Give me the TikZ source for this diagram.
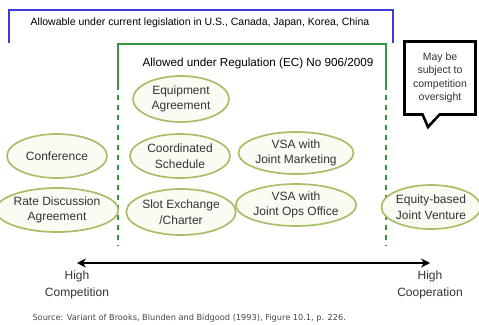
\documentclass[tikz,border=0pt]{standalone}
\usepackage{fontspec}
\setmainfont{Liberation Sans}
\newfontfamily\srcfont{DejaVu Sans}
\usetikzlibrary{shapes.geometric,shapes.callouts,arrows.meta}
\definecolor{legblue}{RGB}{60,60,215}
\definecolor{reggreen}{RGB}{55,150,60}
\definecolor{ellline}{RGB}{170,190,105}
\definecolor{ellfill}{RGB}{250,251,243}
\definecolor{srcgray}{RGB}{70,70,70}
\begin{document}
\begin{tikzpicture}[x=1pt, y=-1pt,
    agree/.style={ellipse, draw=ellline, fill=ellfill, line width=1.7pt,
      inner sep=0pt, minimum width=98, minimum height=44, align=center,
      font=\fontsize{12}{15.5}\selectfont, text=black!80},
    endlabel/.style={align=center, font=\fontsize{12}{17}\selectfont, text=black!80}]
  \useasboundingbox (0,0) rectangle (479,324);
  % blue bracket: current legislation
  \draw[legblue, line width=1.6pt] (9,43) -- (9,10) -- (393,10) -- (393,43);
  \node[font=\fontsize{10.5}{12}\selectfont] (legis) at (200,23)
    {Allowable under current legislation in U.S., Canada, Japan, Korea, China};
  % green bracket: EC regulation
  \draw[reggreen, line width=1.4pt] (118,85) -- (118,44) -- (386,44) -- (386,85);
  \draw[reggreen, line width=1.8pt, dash pattern=on 5pt off 5pt] (118,85) -- (118,246);
  \draw[reggreen, line width=1.8pt, dash pattern=on 5pt off 5pt] (386,85) -- (386,246);
  \node[font=\fontsize{11.7}{13}\selectfont] (ecreg) at (258,63)
    {Allowed under Regulation (EC) No 906/2009};
  % callout
  \node[rectangle callout, draw, line width=2.6pt, fill=white, inner sep=0pt,
    minimum width=71, minimum height=73, callout pointer width=17,
    callout absolute pointer={(428,127)}, align=center,
    font=\fontsize{10.5}{13.5}\selectfont, text=black!80] (oversight) at (440,78)
    {May be\\subject to\\competition\\oversight};
  % agreements
  \node[agree, minimum width=96, minimum height=46] (equip) at (181,99) {Equipment\\Agreement};
  \node[agree, minimum width=100] (conf) at (57,156) {Conference};
  \node[agree, minimum width=100] (rate) at (57,210) {Rate Discussion\\Agreement};
  \node[agree, minimum width=100] (coord) at (180,156) {Coordinated\\Schedule};
  \node[agree, minimum height=46] (slot) at (181,212) {Slot Exchange\\/Charter};
  \node[agree, minimum width=96, minimum height=42] (vsamkt) at (296,153) {VSA with\\Joint Marketing};
  \node[agree, minimum width=96, minimum height=42] (vsaops) at (296,205) {VSA with\\Joint Ops Office};
  \node[agree, minimum width=92] (equity) at (431,207) {Equity-based\\Joint Venture};
  % competition -- cooperation axis
  \node[endlabel] (comp) at (77,285) {High\\Competition};
  \node[endlabel] (coop) at (430,285) {High\\Cooperation};
  \coordinate (lo) at (77,263);
  \coordinate (hi) at (430,263);
  \draw[{Stealth[length=9pt,width=9pt]}-{Stealth[length=9pt,width=9pt]}, line width=1.8pt] (lo) -- (hi);
  \node[anchor=west, text=srcgray, font=\srcfont\fontsize{8.2}{9}\selectfont] (source) at (29,318)
    {Source: Variant of Brooks, Blunden and Bidgood (1993), Figure 10.1, p. 226.};
\end{tikzpicture}
\end{document}
